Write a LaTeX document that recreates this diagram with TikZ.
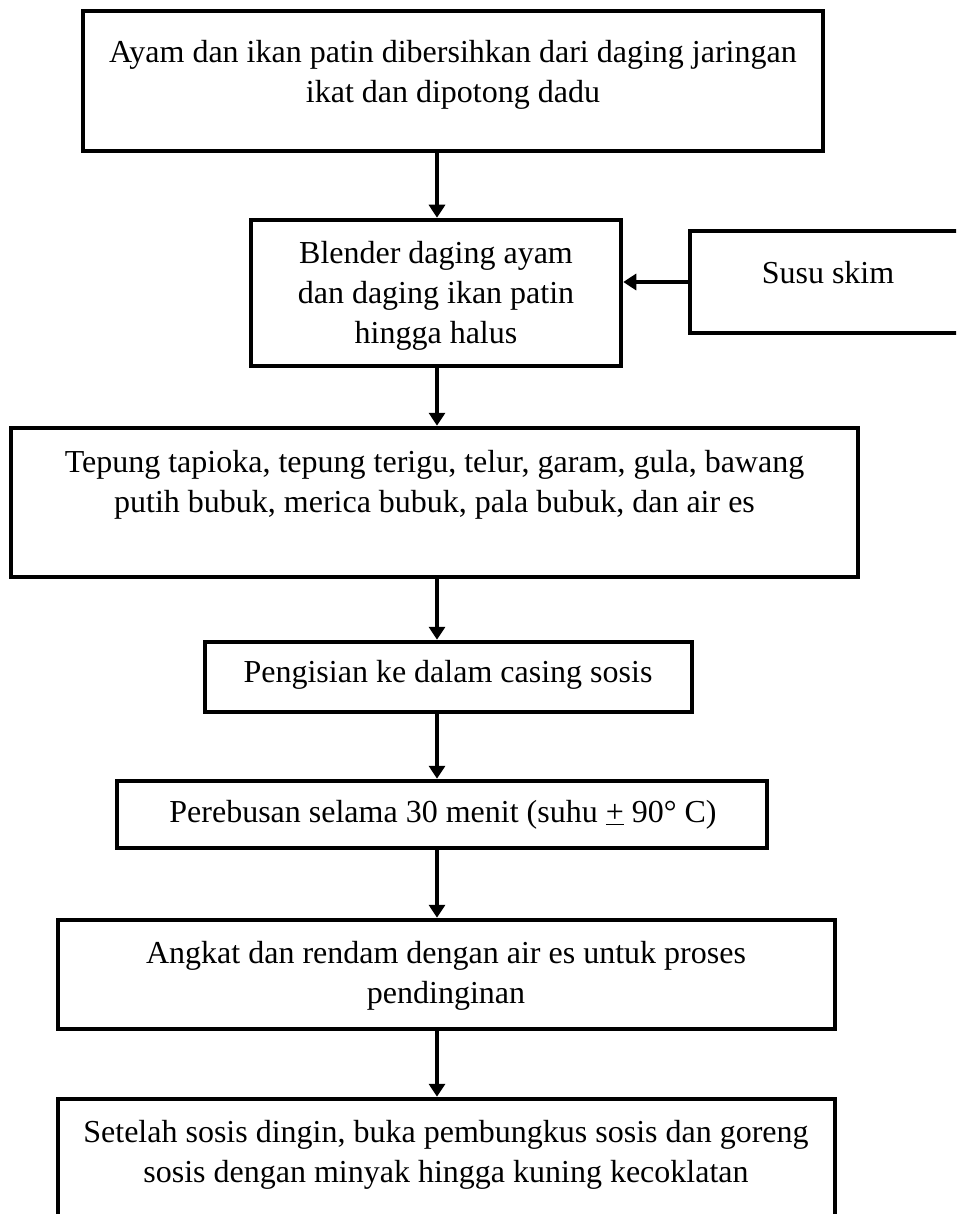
\documentclass[tikz,border=0pt]{standalone}
\usepackage{fontspec}
\setmainfont{Liberation Serif}
\usetikzlibrary{arrows.meta}
\begin{document}
\begin{tikzpicture}[x=1pt,y=-1pt]
  \useasboundingbox (0,0) rectangle (956,1214);
  \clip (0,0) rectangle (956,1214);
  \begin{scope}[every node/.style={draw,line width=4.5pt,rectangle,inner sep=0pt}]
  \node[minimum width=740pt,minimum height=140pt] (b1) at (453,81) {};
  \node[minimum width=370pt,minimum height=146pt] (b2) at (436,293) {};
  \node[minimum width=276pt,minimum height=102pt] (skim) at (828,282) {};
  \node[minimum width=847pt,minimum height=149pt] (b3) at (434.5,502.5) {};
  \node[minimum width=487pt,minimum height=70pt] (b4) at (448.5,677) {};
  \node[minimum width=650pt,minimum height=67pt] (b5) at (442,814.5) {};
  \node[minimum width=777pt,minimum height=109pt] (b6) at (446.5,974.5) {};
  \node[minimum width=777pt,minimum height=140pt] (b7) at (446.5,1169) {};
  \end{scope}
  \begin{scope}[every node/.style={align=center,font=\fontsize{32}{40}\selectfont}]
  \node (t1) at (453,75) {Ayam dan ikan patin dibersihkan dari daging jaringan\\ikat dan dipotong dadu};
  \node (t2) at (436,296) {Blender daging ayam\\dan daging ikan patin\\hingga halus};
  \node (tskim) at (828,273) {Susu skim};
  \node (t3) at (434.5,485) {Tepung tapioka, tepung terigu, telur, garam, gula, bawang\\putih bubuk, merica bubuk, pala bubuk, dan air es};
  \node (t4) at (448,675) {Pengisian ke dalam casing sosis};
  \node (t5) at (443,815) {Perebusan selama 30 menit (suhu \underline{+} 90° C)};
  \node (t6) at (446,976) {Angkat dan rendam dengan air es untuk proses\\pendinginan};
  \node (t7) at (446,1155) {Setelah sosis dingin, buka pembungkus sosis dan goreng\\sosis dengan minyak hingga kuning kecoklatan};
  \end{scope}
  \coordinate (ax) at (437,0);
  \begin{scope}[every edge/.style={draw,line width=4.5pt,-{Triangle[width=16pt,length=13pt]}}]
  \path (b1.south -| ax) edge (b2.north -| ax);
  \path (skim.west) edge (skim.west -| b2.east);
  \path (b2.south -| ax) edge (b3.north -| ax);
  \path (b3.south -| ax) edge (b4.north -| ax);
  \path (b4.south -| ax) edge (b5.north -| ax);
  \path (b5.south -| ax) edge (b6.north -| ax);
  \path (b6.south -| ax) edge (b7.north -| ax);
  \end{scope}
\end{tikzpicture}
\end{document}
